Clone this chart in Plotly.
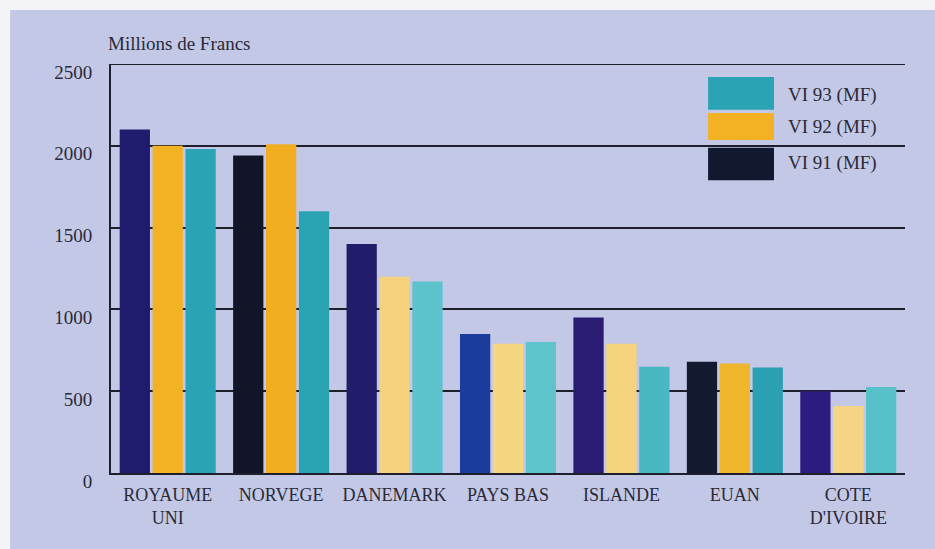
import plotly.graph_objects as go

# Chart data
categories = ["ROYAUME<br>UNI", "NORVEGE", "DANEMARK", "PAYS BAS", "ISLANDE", "EUAN", "COTE<br>D'IVOIRE"]
vi91 = [2100, 1940, 1400, 850, 950, 680, 500]
vi92 = [2000, 2010, 1200, 790, 790, 670, 410]
vi93 = [1980, 1600, 1170, 800, 650, 645, 525]
series_names = ["VI 91 (MF)", "VI 92 (MF)", "VI 93 (MF)"]
y_ticks = [0, 500, 1000, 1500, 2000, 2500]

# Per-bar fill colours
colors91 = ["#1f1c6e", "#121528", "#211d6a", "#1a3c9c", "#2a1c72", "#121a30", "#2c1c80"]
colors92 = ["#f2b224", "#f2ae20", "#f6d27e", "#f6d680", "#f6d47e", "#f0b62c", "#f6d486"]
colors93 = ["#2aa4b4", "#2aa4b2", "#5cc2cc", "#5cc4ca", "#4ab8c2", "#2aa0b0", "#58c0c8"]

font_family = "Liberation Serif, DejaVu Serif, serif"
text_color = "#2a2a38"
line_color = "#1e1e2c"
margin_white = "#f4f4f8"

fig = go.Figure()
for name, vals, cols in zip(series_names, [vi91, vi92, vi93], [colors91, colors92, colors93]):
    fig.add_trace(go.Bar(
        x=categories, y=vals, name=name,
        marker=dict(color=cols, line=dict(width=0)),
        showlegend=False,
    ))

shapes = [
    # light border strips along the top and left edges of the page
    dict(type="rect", xref="paper", yref="paper", x0=-0.2, x1=1.2, y0=1.132, y1=1.3,
         fillcolor=margin_white, line=dict(width=0), layer="below"),
    dict(type="rect", xref="paper", yref="paper", x0=-0.2, x1=-0.127, y0=-0.3, y1=1.3,
         fillcolor=margin_white, line=dict(width=0), layer="below"),
    # top gridline at the end of the value range
    dict(type="line", xref="paper", yref="y", x0=0, x1=1, y0=2500, y1=2500,
         line=dict(color=line_color, width=2), layer="below"),
]

# Legend patches and labels (top-right)
legend_items = [
    ("VI 93 (MF)", "#2aa4b4", 0.968, 0.888, 0.924),
    ("VI 92 (MF)", "#f2b224", 0.880, 0.814, 0.846),
    ("VI 91 (MF)", "#121830", 0.795, 0.716, 0.758),
]
annotations = []
for label, col, y1, y0, ty in legend_items:
    shapes.append(dict(type="rect", xref="paper", yref="paper", x0=0.752, x1=0.835,
                       y0=y0, y1=y1, fillcolor=col, line=dict(width=0), layer="above"))
    annotations.append(dict(xref="paper", yref="paper", x=0.850, y=ty, text=label,
                            showarrow=False, xanchor="left", yanchor="middle",
                            font=dict(family=font_family, size=19, color=text_color)))

annotations.append(dict(xref="paper", yref="paper", x=-0.006, y=1.0, yshift=8,
                        text="Millions de Francs", showarrow=False,
                        xanchor="left", yanchor="bottom",
                        font=dict(family=font_family, size=19, color=text_color)))

fig.update_layout(
    width=935, height=549,
    margin=dict(l=111, r=30, t=64, b=76),
    paper_bgcolor="#c3c8e6",
    plot_bgcolor="rgba(0,0,0,0)",
    barmode="group",
    bargap=0.13,
    bargroupgap=0.08,
    shapes=shapes,
    annotations=annotations,
    font=dict(family=font_family, color=text_color),
)
fig.update_xaxes(
    showgrid=False,
    showline=True, linecolor=line_color, linewidth=2,
    ticks="", ticklabelstandoff=4,
    tickfont=dict(family=font_family, size=18, color=text_color),
)
fig.update_yaxes(
    range=[0, 2500], tickvals=y_ticks,
    showgrid=True, gridcolor=line_color, gridwidth=2,
    showline=True, linecolor=line_color, linewidth=2,
    zeroline=False, ticks="",
    ticklabelstandoff=13, ticklabelshift=8,
    tickfont=dict(family=font_family, size=19, color=text_color),
)

# Let the figure fill the page without body margin or scrollbars
fig.write_html(
    "out.html",
    post_script="document.body.style.margin='0';document.body.style.overflow='hidden';",
)
